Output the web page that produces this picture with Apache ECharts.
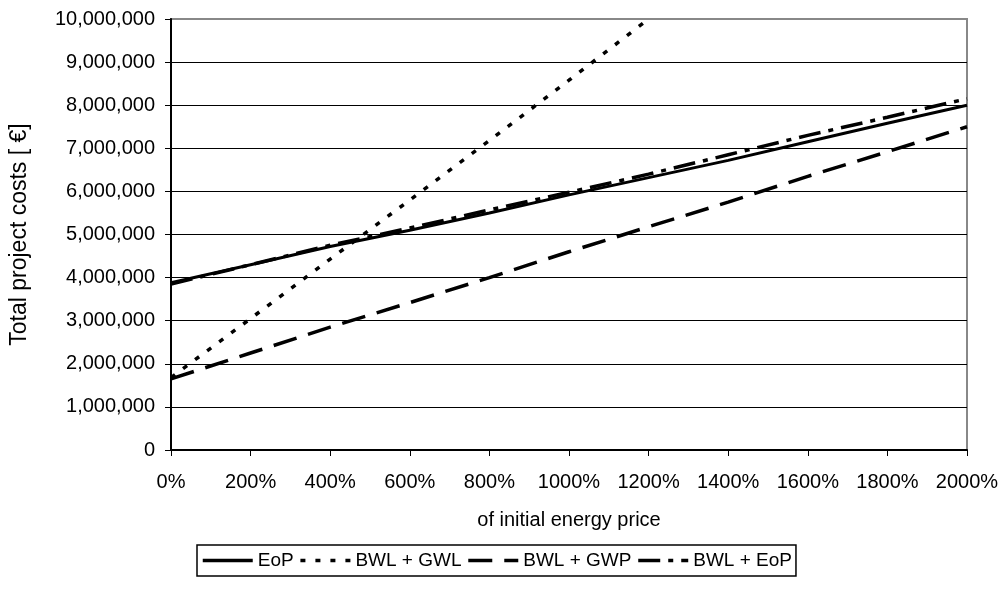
<!DOCTYPE html>
<html>
<head>
<meta charset="utf-8">
<script src="https://cdn.jsdelivr.net/npm/echarts@6/dist/echarts.min.js"></script>
<style>html,body{margin:0;padding:0;background:#fff;}#c{width:1004px;height:601px;}</style>
</head>
<body>
<div id="c"></div>
<script>
const xPct = [0, 200, 400, 600, 800, 1000, 1200, 1400, 1600, 1800, 2000];
const eop      = [3880000, 4300000, 4720000, 5100000, 5500000, 5920000, 6320000, 6720000, 7150000, 7580000, 8000000];
const bwlGwl   = [1680000, 3050000, 4430000, 5800000, 7180000, 8580000, 10000000];
const bwlGwp   = [1650000, 2250000, 2850000, 3420000, 4000000, 4600000, 5180000, 5750000, 6350000, 6920000, 7500000];
const bwlEop   = [3850000, 4300000, 4750000, 5150000, 5570000, 5980000, 6400000, 6850000, 7300000, 7720000, 8150000];
const seriesNames = ['EoP', 'BWL + GWL', 'BWL + GWP', 'BWL + EoP'];
const yTicks = [0, 1000000, 2000000, 3000000, 4000000, 5000000, 6000000, 7000000, 8000000, 9000000, 10000000];

const pair = (vals) => vals.map((v, i) => [xPct[i], v]);
const font = '"Liberation Sans", Arial, sans-serif';

const chart = echarts.init(document.getElementById('c'), null, {renderer: 'canvas'});
const mk = (name, vals, type, width) => ({
  name, type: 'line', data: pair(vals), symbol: 'none', showSymbol: false,
  lineStyle: {color: '#000', width: width, type: type, cap: 'butt'},
  itemStyle: {color: '#000'}, animation: false, clip: true
});
chart.setOption({
  animation: false,
  backgroundColor: '#fff',
  grid: {left: 170, right: 37, top: 19, bottom: 151, show: true, borderColor: '#888', borderWidth: 2, backgroundColor: 'transparent'},
  xAxis: {
    type: 'value', min: 0, max: 2000, interval: 200,
    name: 'of initial energy price', nameLocation: 'middle', nameGap: 60,
    nameTextStyle: {fontFamily: font, fontSize: 20, color: '#000'},
    axisLine: {show: true, lineStyle: {color: '#000', width: 2}},
    axisTick: {show: true, length: 6, lineStyle: {color: '#000', width: 1}},
    axisLabel: {formatter: v => v + '%', fontFamily: font, fontSize: 20, color: '#000', margin: 22},
    splitLine: {show: false}
  },
  yAxis: {
    type: 'value', min: yTicks[0], max: yTicks[yTicks.length - 1], interval: 1000000,
    name: 'Total project costs [ €]', nameLocation: 'middle', nameGap: 140, nameRotate: 90,
    nameTextStyle: {fontFamily: font, fontSize: 23, color: '#000'},
    axisLine: {show: true, lineStyle: {color: '#000', width: 2}},
    axisTick: {show: true, length: 6, lineStyle: {color: '#000', width: 1}},
    axisLabel: {formatter: v => v.toLocaleString('en-US'), fontFamily: font, fontSize: 20, color: '#000', margin: 16},
    splitLine: {show: true, showMaxLine: false, lineStyle: {color: '#000', width: 1}}
  },
  legend: {
    data: seriesNames, left: 197, top: 545, orient: 'horizontal',
    borderColor: '#000', borderWidth: 1.5, padding: [6, 4, 6, 4],
    itemWidth: 50, itemHeight: 14, itemGap: 5,
    itemStyle: {opacity: 0},
    lineStyle: {width: 3.5},
    textStyle: {fontFamily: font, fontSize: 19, color: '#000'}
  },
  series: [
    mk(seriesNames[0], eop, 'solid', 3),
    mk(seriesNames[1], bwlGwl, [5, 10], 3.5),
    mk(seriesNames[2], bwlGwp, [24, 12], 3.5),
    mk(seriesNames[3], bwlEop, [22, 8, 5, 8], 3.5)
  ]
});
</script>
</body>
</html>
